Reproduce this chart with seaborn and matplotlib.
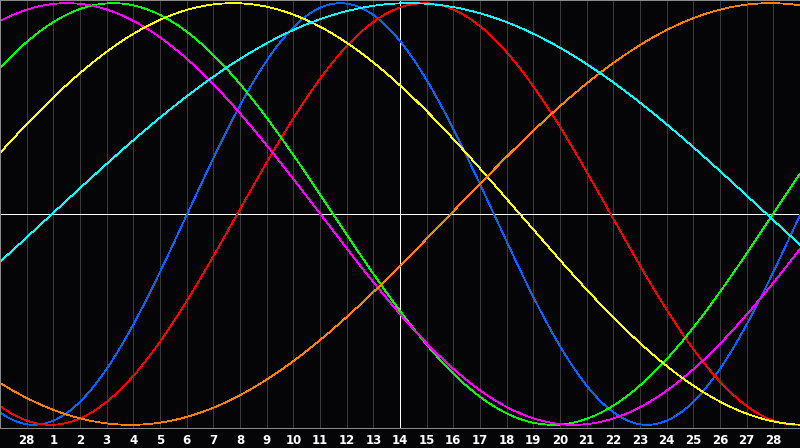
import numpy as np
import pandas as pd
import matplotlib
matplotlib.use("Agg")
import matplotlib.pyplot as plt
import seaborn as sns

# ---- data ----
cycle_names = ["physical", "emotional", "intellectual", "intuitive", "aesthetic", "awareness", "spiritual"]
cycle_periods = [23, 28, 33, 38, 43, 48, 53.6]          # days
cycle_peak_pos = [12.77, 15.9, 4.24, 2.51, 8.74, 28.9, 15.35]  # x position of a maximum (day slots)
cycle_colors = ["#0066ff", "#ff0000", "#00ff00", "#ff00ff", "#ffff00", "#ff8000", "#00ffff"]
day_labels = ["28"] + [str(d) for d in range(1, 29)]
today_label = "14"

# ---- build curves ----
t = np.linspace(0, 30, 1201)
frames = []
for name, per, pk in zip(cycle_names, cycle_periods, cycle_peak_pos):
    frames.append(pd.DataFrame({"t": t, "v": np.cos(2 * np.pi * (t - pk) / per), "cycle": name}))
df = pd.concat(frames, ignore_index=True)

sns.set_theme(style="dark")
plt.rcParams["font.family"] = ["DejaVu Sans"]

W, H = 800, 448
fig = plt.figure(figsize=(W / 100, H / 100), dpi=100, facecolor="#050508")
ax = fig.add_axes([0, 20 / H, 1, 428 / H])
ax.set_facecolor("#050508")

LW = 0.72  # one pixel
xt = list(range(1, len(day_labels) + 1))
for x in xt:
    ax.axvline(x, color="#3a3a3a", lw=LW, zorder=0, antialiased=False)
ax.axhline(0, color="white", lw=LW, zorder=1, antialiased=False)
ax.axvline(xt[day_labels.index(today_label, 1)], color="white", lw=LW, zorder=1, antialiased=False)

sns.lineplot(data=df, x="t", y="v", hue="cycle", palette=dict(zip(cycle_names, cycle_colors)),
             hue_order=cycle_names, linewidth=0.55, legend=False, ax=ax, zorder=2, antialiased=False)

ax.set_xlim(0, 30)
ax.set_ylim(-1.015, 1.015)
ax.set_xticks(xt)
ax.set_xticklabels(day_labels, color="white", fontsize=8.5, fontweight="bold")
ax.set_yticks([])
ax.tick_params(axis="x", length=0, pad=4)
ax.set_xlabel("")
ax.set_ylabel("")
ax.grid(False)
for s in ["left", "top", "bottom"]:
    ax.spines[s].set_visible(True)
    ax.spines[s].set_color("#8a8a8a")
    ax.spines[s].set_linewidth(LW)
ax.spines["right"].set_visible(False)

fig.savefig("out.png", dpi=100, facecolor=fig.get_facecolor())
